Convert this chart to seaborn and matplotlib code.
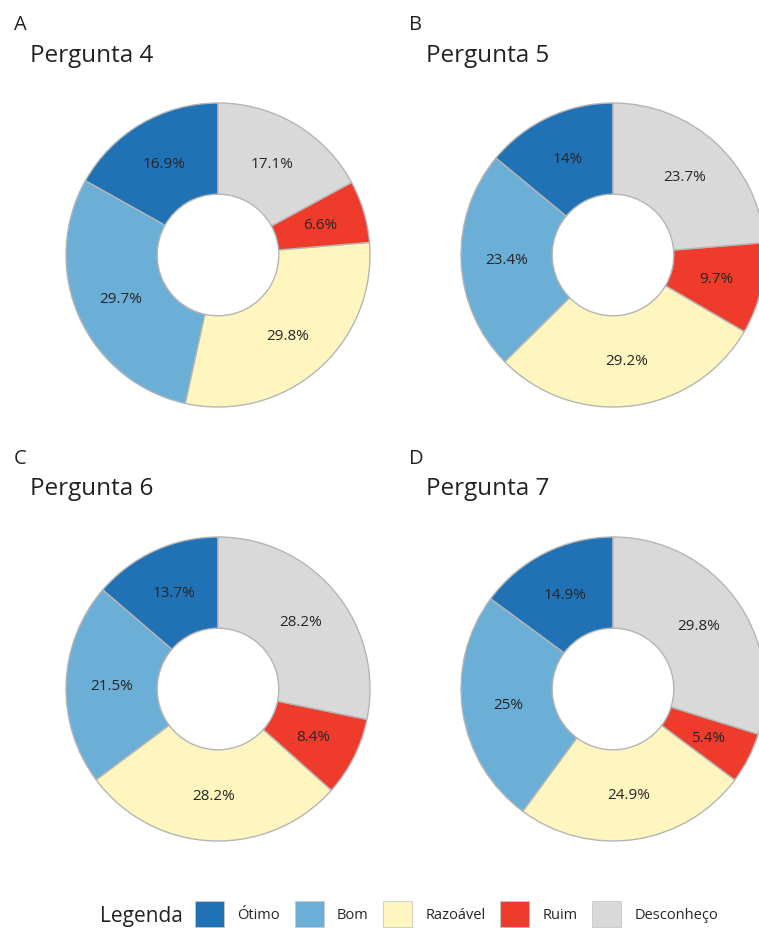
import matplotlib
matplotlib.use("Agg")
import matplotlib.pyplot as plt
import seaborn as sns
from matplotlib.patches import Patch

categorias = ["Ótimo", "Bom", "Razoável", "Ruim", "Desconheço"]
cores = ["#2171b5", "#6baed6", "#fff5bf", "#ef3b2c", "#d9d9d9"]

paineis = ["A", "B", "C", "D"]
titulos = ["Pergunta 4", "Pergunta 5", "Pergunta 6", "Pergunta 7"]
valores = [
    [16.9, 29.7, 29.8, 6.6, 17.1],
    [14.0, 23.4, 29.2, 9.7, 23.7],
    [13.7, 21.5, 28.2, 8.4, 28.2],
    [14.9, 25.0, 24.9, 5.4, 29.8],
]

sns.set_theme(style="white")
plt.rcParams["font.family"] = ["Open Sans", "DejaVu Sans"]

W, H = 759, 929
fig = plt.figure(figsize=(W / 100, H / 100), dpi=100)

# pixel layout of each panel: donut centre, radius, letter and title positions
centros = [(218, 256), (613, 256), (218, 690), (613, 690)]
raio = 152
letra_xy = [(14, 30), (409, 30), (14, 464), (409, 464)]
titulo_xy = [(30, 62), (426, 62), (30, 495), (426, 495)]


def fmt(p):
    s = f"{p:.1f}"
    if s.endswith(".0"):
        s = s[:-2]
    return s + "%"


for i in range(4):
    cx, cy = centros[i]
    ax = fig.add_axes([(cx - raio) / W, 1 - (cy + raio) / H, 2 * raio / W, 2 * raio / H])
    vals = valores[i]
    total = sum(vals)
    ax.pie(vals, colors=cores, startangle=90, counterclock=True, radius=1,
           wedgeprops=dict(width=0.6, edgecolor="#b5b5b5", linewidth=1),
           autopct=lambda p, t=total: fmt(p * t / 100), pctdistance=0.7,
           textprops=dict(fontsize=11, color="#262626"))
    ax.set_xlim(-1.0, 1.0)
    ax.set_ylim(-1.0, 1.0)
    ax.set_aspect("equal")
    ax.axis("off")
    lx, ly = letra_xy[i]
    fig.text(lx / W, 1 - ly / H, paineis[i], fontsize=14.5, color="#222222", va="baseline")
    tx, ty = titulo_xy[i]
    fig.text(tx / W, 1 - ty / H, titulos[i], fontsize=17.5, color="#222222", va="baseline")

# legend strip at the bottom
fig.text(100 / W, 1 - 922 / H, "Legenda", fontsize=15, color="#222222", va="baseline")
handles = [Patch(facecolor=c, edgecolor="#c8c8c8", linewidth=0.6) for c in cores]
fig.legend(handles, categorias, loc="center left", bbox_to_anchor=(195 / W, 1 - 915 / H),
           ncol=5, frameon=False, fontsize=10.5, handlelength=2.0, handleheight=2.4,
           handletextpad=0.9, columnspacing=1.0, borderaxespad=0, borderpad=0)

fig.savefig("out.png", dpi=100)
